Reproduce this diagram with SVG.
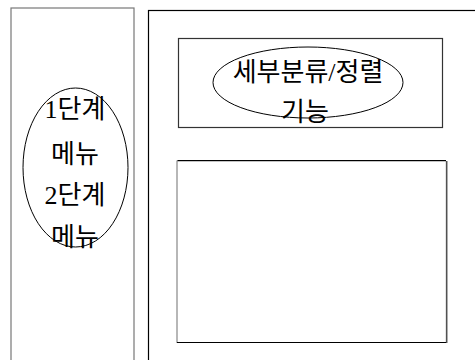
<svg xmlns="http://www.w3.org/2000/svg" width="475" height="360" viewBox="0 0 475 360">
<style>
.box{fill:none;stroke-width:1.2}
.ell{fill:none;stroke:#000;stroke-width:1}
.t{font-family:"Liberation Serif","Noto Sans CJK KR",serif;font-size:26px;fill:#000;text-anchor:middle}
</style>
<rect width="475" height="360" fill="#fff"/>
<g id="left-panel">
<rect class="box" x="11" y="8" width="123" height="360" stroke="#777"/>
<ellipse class="ell" cx="75.5" cy="167.5" rx="52.5" ry="79.5"/>
<text class="t" x="75" y="118">1단계</text>
<text class="t" x="75" y="163">메뉴</text>
<text class="t" x="75" y="204">2단계</text>
<text class="t" x="75" y="246">메뉴</text>
</g>
<g id="right-panel">
<rect class="box" x="148.5" y="10.5" width="340" height="360" stroke="#000"/>
</g>
<g id="top-box">
<rect class="box" x="178.5" y="38.5" width="264" height="89" stroke="#333"/>
<ellipse class="ell" cx="308" cy="82.5" rx="95" ry="35.5"/>
<text class="t" x="308" y="81">세부분류/정렬</text>
<text class="t" x="305" y="121">기능</text>
</g>
<g id="bottom-box">
<path d="M177 343V161H446" fill="none" stroke="#888" stroke-width="1.2"/>
<path d="M177.5 160.5H446" fill="none" stroke="#000" stroke-width="1"/>
<path d="M177 342.5H446.5V161" fill="none" stroke="#000" stroke-width="1.2"/>
<path d="M447 161V343" fill="none" stroke="#888" stroke-width="1.2"/>
</g>
<g id="connectors"></g>
</svg>
